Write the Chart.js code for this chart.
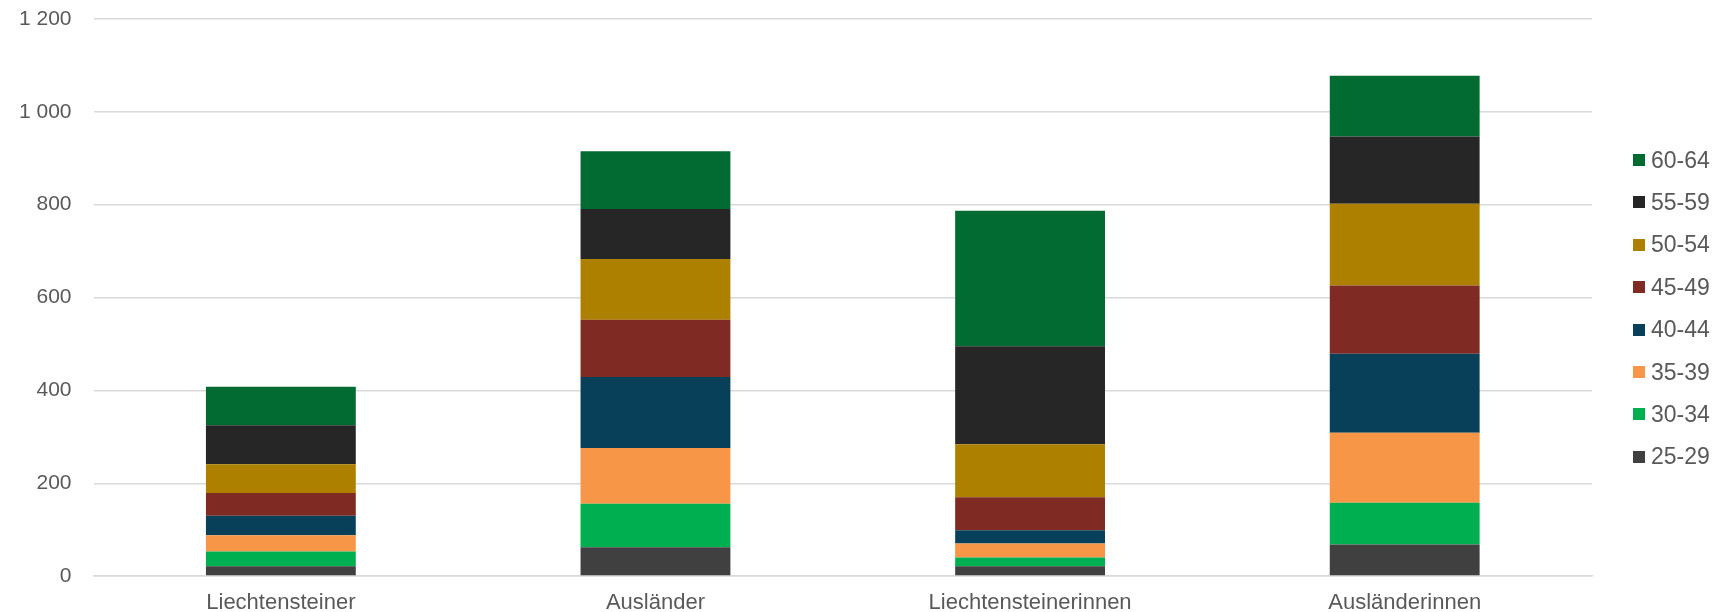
<!DOCTYPE html>
<html>
<head>
<meta charset="utf-8">
<script src="https://cdn.jsdelivr.net/npm/chart.js@4/dist/chart.umd.min.js"></script>
<style>
  html, body { margin: 0; padding: 0; background: #ffffff; }
  #wrap { position: relative; width: 1724px; height: 612px; }
  #legend { position: absolute; left: 1633px; top: 0; font-family: 'Liberation Sans', Arial, sans-serif; font-size: 23px; color: #595959; }
  .legend-item { position: absolute; left: 0; height: 26px; display: flex; align-items: center; white-space: nowrap; }
  .legend-box { width: 12px; height: 12px; margin-right: 6px; }
</style>
</head>
<body>
<div id="wrap">
  <canvas id="chart" width="1724" height="612"></canvas>
  <div id="legend"></div>
</div>
<script>
const categories = ['Liechtensteiner', 'Ausländer', 'Liechtensteinerinnen', 'Ausländerinnen'];
const ageGroups = ['25-29', '30-34', '35-39', '40-44', '45-49', '50-54', '55-59', '60-64'];

// values per age group, one entry per category
const age25 = [21, 62, 21, 68];
const age30 = [32, 94, 19, 90];
const age35 = [35, 120, 30, 151];
const age40 = [42, 153, 29, 170];
const age45 = [49, 123, 71, 147];
const age50 = [62, 131, 114, 176];
const age55 = [84, 108, 211, 145];
const age60 = [83, 124, 292, 131];

const yTicks = [0, 200, 400, 600, 800, 1000, 1200];

const seriesValues = [age25, age30, age35, age40, age45, age50, age55, age60];
const colors = ['#404040', '#00B050', '#F79646', '#084059', '#7F2A22', '#AD8000', '#262626', '#026B32'];

function formatThousands(v) {
    return String(v).replace(/\B(?=(\d{3})+(?!\d))/g, ' ');
}

const ctx = document.getElementById('chart').getContext('2d');

const chart = new Chart(ctx, {
    type: 'bar',
    data: {
        labels: categories,
        datasets: ageGroups.map((g, i) => ({
            label: g,
            data: seriesValues[i],
            backgroundColor: colors[i],
            borderWidth: 0,
            categoryPercentage: 1,
            barPercentage: 0.4
        }))
    },
    options: {
        responsive: false,
        animation: false,
        layout: { padding: { top: 19, left: -3, right: 132, bottom: -9.5 } },
        plugins: {
            tooltip: { enabled: false },
            legend: { display: false }
        },
        scales: {
            x: {
                stacked: true,
                grid: { display: false },
                border: { color: '#d9d9d9', width: 1.5 },
                ticks: {
                    color: '#595959',
                    padding: 5.5,
                    font: { family: 'Liberation Sans, Arial, sans-serif', size: 22 }
                }
            },
            y: {
                stacked: true,
                min: 0,
                max: 1200,
                afterBuildTicks: axis => { axis.ticks = yTicks.map(v => ({ value: v })); },
                // tick padding is only meant for the horizontal gap
                afterFit: axis => { axis.paddingTop = 0; },
                grid: { color: '#d9d9d9', lineWidth: 1.5, drawTicks: false },
                border: { display: false },
                ticks: {
                    color: '#595959',
                    padding: 22,
                    font: { family: 'Liberation Sans, Arial, sans-serif', size: 21 },
                    callback: v => formatThousands(v)
                }
            }
        }
    }
});

// legend on the right, top entry is the last age group
function renderLegend() {
    const container = document.getElementById('legend');
    let html = '';
    chart.data.datasets.slice().reverse().forEach((ds, index) => {
        const top = 160 + index * 42.4 - 13;
        html += `
            <div class="legend-item" style="top:${top}px">
                <div class="legend-box" style="background:${ds.backgroundColor}"></div>
                <span>${ds.label}</span>
            </div>
        `;
    });
    container.innerHTML = html;
}

renderLegend();
</script>
</body>
</html>
